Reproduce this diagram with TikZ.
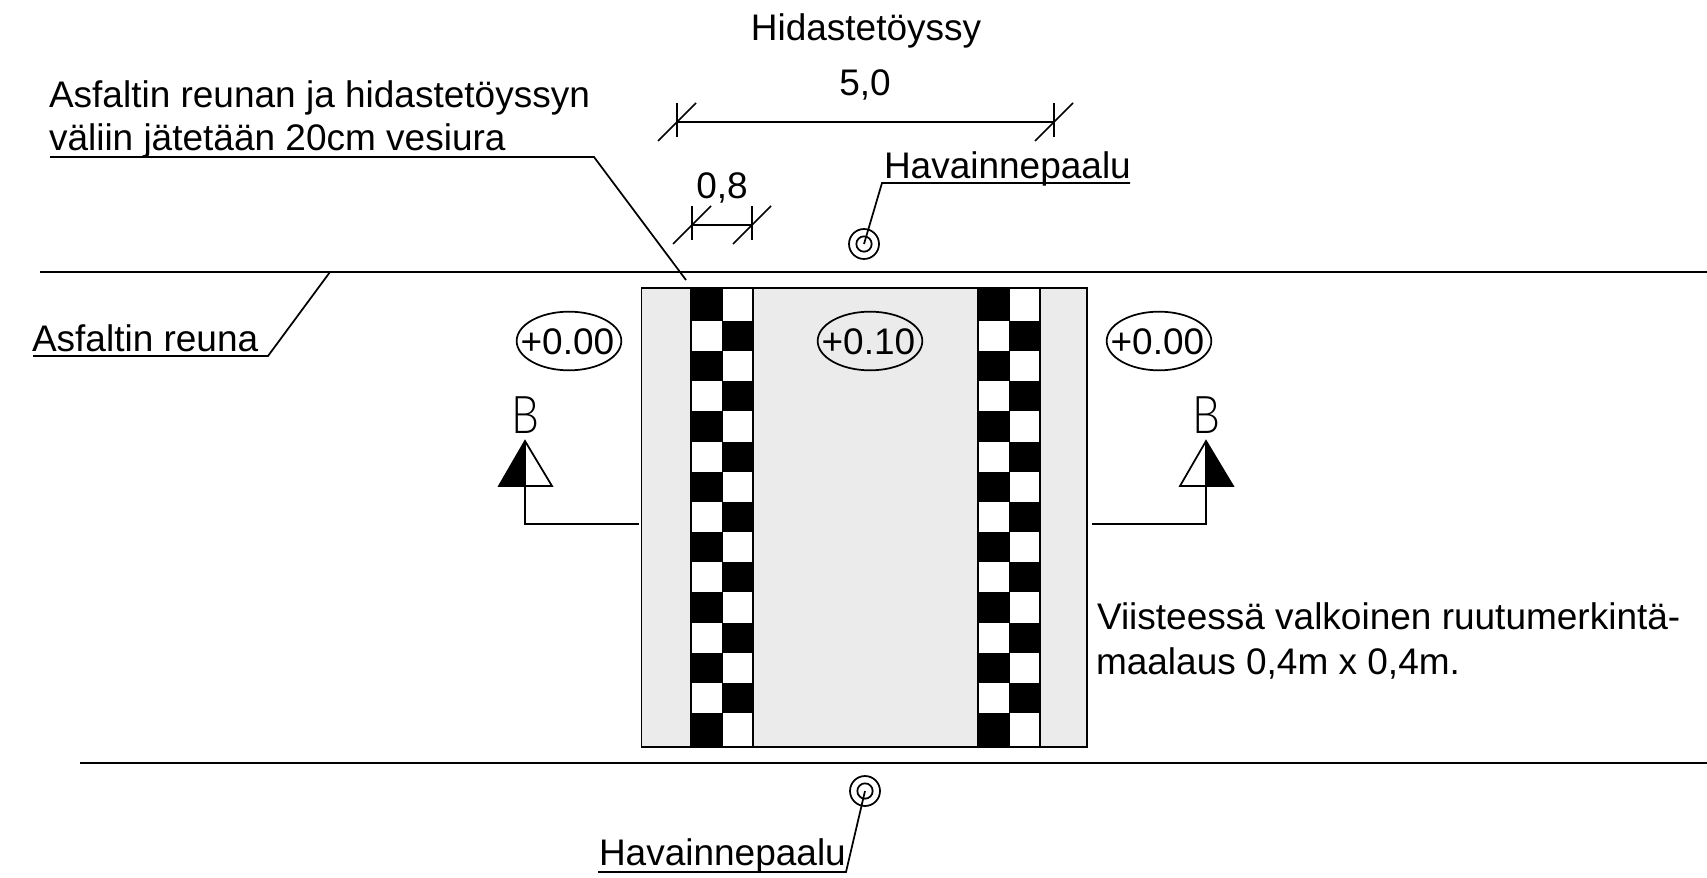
\documentclass[tikz,border=0pt]{standalone}
\usepackage{fontspec}
\setmainfont{Liberation Sans}
\newfontfamily\thinb[UprightFont={* Light}]{Lato}
\usetikzlibrary{shapes.geometric}
\definecolor{padgrey}{HTML}{EBEBEB}
\tikzset{
 ln/.style={line width=1.45pt,black},
 thinln/.style={line width=1.3pt,black},
 txt/.style={inner sep=0pt,outer sep=0pt,anchor=base west,font=\fontsize{27.75}{33}\selectfont},
 ctxt/.style={inner sep=0pt,outer sep=0pt,anchor=base,font=\fontsize{27.75}{33}\selectfont},
 lev/.style={ellipse,draw,line width=1.3pt,minimum width=78.5pt,minimum height=44pt,inner sep=0pt},
 levt/.style={inner sep=0pt,outer sep=0pt,xshift=-1.2pt,yshift=-0.4pt,font=\fontsize{27.75}{33}\selectfont},
 secB/.style={inner sep=0pt,outer sep=0pt,anchor=base,xscale=.85,font=\thinb\fontsize{39}{40}\selectfont},
 ringo/.style={circle,draw,line width=1.3pt,minimum size=22.5pt,inner sep=0pt},
 ringi/.style={circle,draw,line width=1.3pt,minimum size=11.5pt,inner sep=0pt},
}
\begin{document}
\begin{tikzpicture}[x=0.75pt,y=-0.75pt]
\useasboundingbox (0,0) rectangle (1707,878);
% edges
\coordinate (tl) at (40,272); \coordinate (tr) at (1707,272);
\coordinate (bl) at (80,763); \coordinate (br) at (1707,763);
\draw[ln] (tl) -- (tr);
\draw[ln] (bl) -- (br);
% hump
\draw[thinln,fill=padgrey] (641.5,288) rectangle (1087,747);
\foreach \x in {691,978}{
  \fill[white] (\x,288) rectangle (\x+62,747);
  \foreach \r in {0,...,14}{
    \pgfmathsetmacro{\ya}{\r==0 ? 288 : 321+(\r-1)*30.15}
    \pgfmathsetmacro{\yb}{\r==14 ? 747 : 321+\r*30.15}
    \pgfmathparse{int(mod(\r,2))}
    \ifnum\pgfmathresult=0
      \fill[black] (\x,\ya) rectangle (\x+32,\yb);
    \else
      \fill[black] (\x+31,\ya) rectangle (\x+62,\yb);
    \fi
  }
  \draw[thinln] (\x,288) -- (\x,747);
  \draw[thinln] (\x+62,288) -- (\x+62,747);
}
\draw[thinln] (641.5,288) rectangle (1087,747);
% texts
\node[ctxt] (title) at (866,40) {Hidastetöyssy};
\node[ctxt] (d50) at (865,95) {5,0};
\node[ctxt] (d08) at (722,198) {0,8};
\node[txt] (n1) at (49,107) {Asfaltin reunan ja hidastetöyssyn};
\node[txt] (n2) at (49,150) {väliin jätetään 20cm vesiura};
\node[txt] (hp1) at (884,178) {Havainnepaalu};
\node[txt] (hp2) at (599,865) {Havainnepaalu};
\node[txt] (ar) at (32,351) {Asfaltin reuna};
\node[txt] (v1) at (1097,629) {Viisteessä valkoinen ruutumerkintä-};
\node[txt] (v2) at (1096,674) {maalaus 0,4m x 0,4m.};
% levels
\node[lev] (e1) at (569,341) {};
\node[lev] (e2) at (870,341) {};
\node[lev] (e3) at (1159,341) {};
\node[levt] at (e1) {+0.00};
\node[levt] at (e2) {+0.10};
\node[levt] at (e3) {+0.00};
% dimensions
\coordinate (a1) at (677,122); \coordinate (a2) at (1054,122);
\coordinate (b1) at (692,225); \coordinate (b2) at (752,225);
\draw[thinln] (a1) -- (a2);
\draw[thinln] (b1) -- (b2);
\foreach \c in {a1,a2,b1,b2}{
  \draw[thinln] ([yshift=14pt]\c) -- ([yshift=-11.5pt]\c);
  \draw[thinln] ([xshift=-14.25pt,yshift=-14.25pt]\c) -- ([xshift=14.25pt,yshift=14.25pt]\c);
}
% leaders
\coordinate (l1) at (50,157); \coordinate (l2) at (594,157); \coordinate (l3) at (686,280);
\draw[thinln] (l1) -- (l2) -- (l3);
\coordinate (r1) at (330,272); \coordinate (r2) at (268,356); \coordinate (r3) at (33,356);
\draw[thinln] (r1) -- (r2) -- (r3);
% posts
\node[ringo] (p1) at (864,244) {};
\node[ringi] (p1i) at (864,244) {};
\node[ringo] (p2) at (865,791) {};
\node[ringi] (p2i) at (865,791) {};
\coordinate (h1) at (882,183); \coordinate (h2) at (1130,183);
\draw[thinln] (p1.center) -- (h1) -- (h2);
\coordinate (g1) at (846,872); \coordinate (g2) at (598,872);
\draw[thinln] (p2.center) -- (g1) -- (g2);
% section marks
\coordinate (sa) at (525,441); \coordinate (sl) at (499,486); \coordinate (sr) at (552,486);
\coordinate (sb) at (525,486); \coordinate (sc) at (525,524); \coordinate (sd) at (639,524);
\fill[black] (sa) -- (sl) -- (sb) -- cycle;
\draw[thinln,line join=miter] (sa) -- (sl) -- (sr) -- cycle;
\draw[thinln] (sa) -- (sc) -- (sd);
\coordinate (ta) at (1206,441); \coordinate (tl2) at (1180,486); \coordinate (tr2) at (1233,486);
\coordinate (tb) at (1206,486); \coordinate (tc) at (1206,524); \coordinate (td) at (1092,524);
\fill[black] (ta) -- (tr2) -- (tb) -- cycle;
\draw[thinln,line join=miter] (ta) -- (tl2) -- (tr2) -- cycle;
\draw[thinln] (ta) -- (tc) -- (td);
\node[secB] (b1t) at (525,433) {B};
\node[secB] (b2t) at (1206,433) {B};
\end{tikzpicture}
\end{document}
